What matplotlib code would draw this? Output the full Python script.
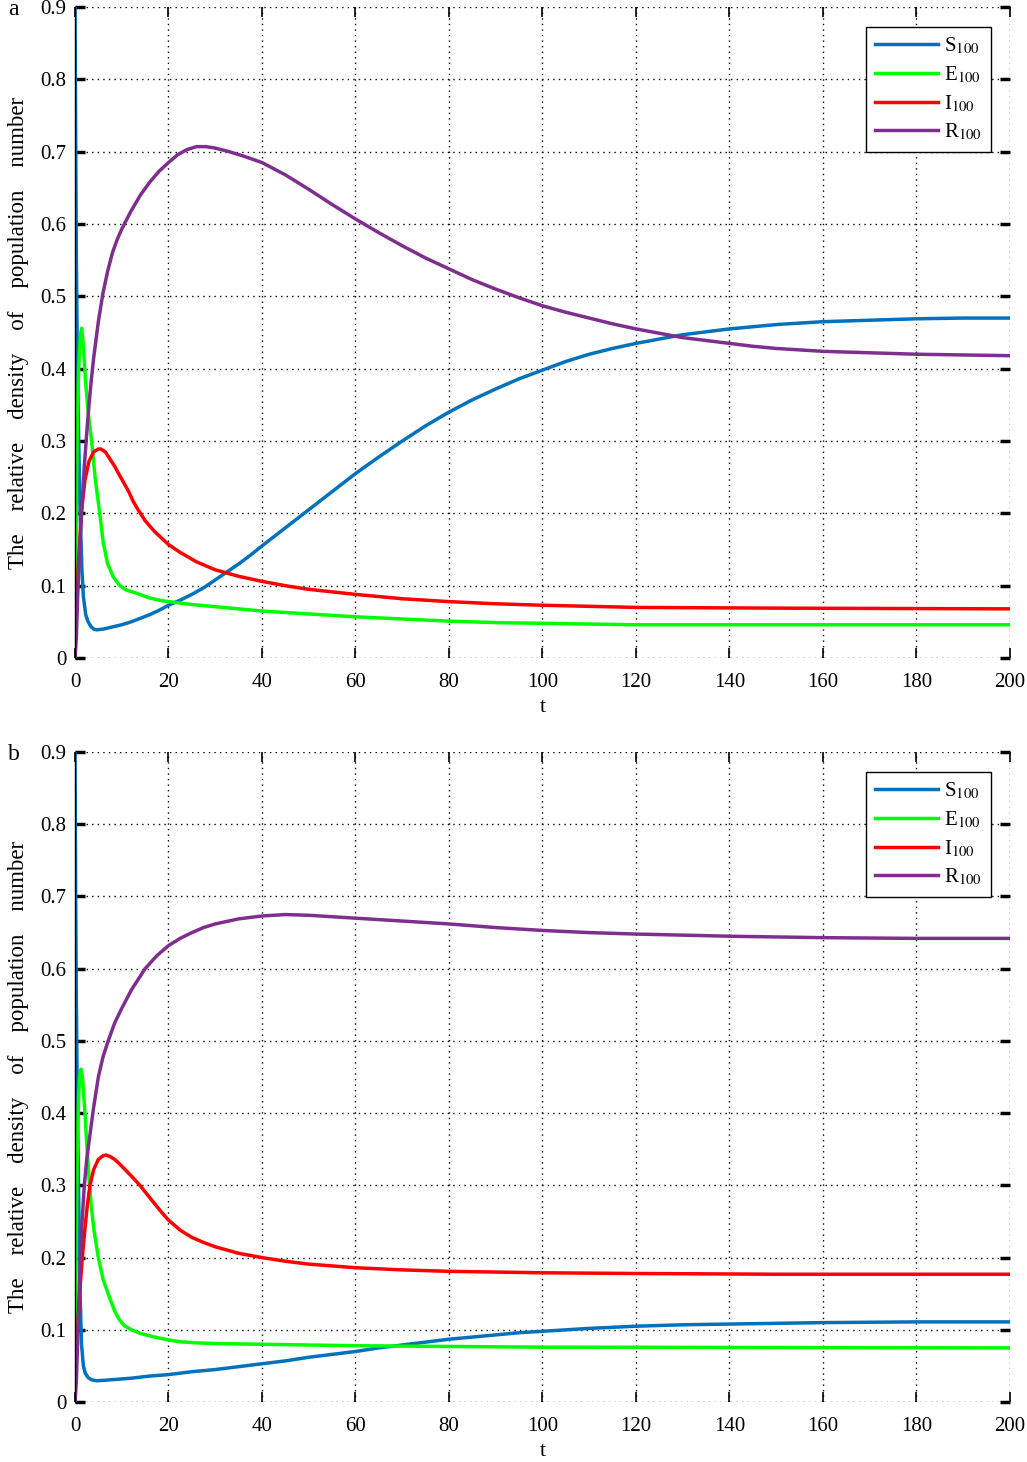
import matplotlib
matplotlib.use("Agg")
import matplotlib.pyplot as plt

# =============================
# DATA
# =============================

# panel a
t_s_a = [0, 0.15, 0.3, 0.5, 0.8, 1.1, 1.5, 1.8, 2.3, 2.7, 3, 3.5, 4, 4.6, 6, 8, 10, 12, 14, 16,
         18, 20, 22.5, 25, 27.5, 30, 32.5, 35, 37.5, 40, 45, 50, 55, 60, 65, 70, 75, 80, 85, 90,
         95, 100, 105, 110, 115, 120, 125, 130, 135, 140, 150, 160, 170, 180, 190, 200]
s_a = [0.9, 0.72, 0.55, 0.42, 0.3, 0.2, 0.12, 0.085, 0.06, 0.052, 0.048, 0.043, 0.04, 0.039, 0.04,
       0.043, 0.046, 0.05, 0.055, 0.06, 0.066, 0.073, 0.08, 0.088, 0.097, 0.108, 0.119, 0.13, 0.142,
       0.155, 0.18, 0.205, 0.23, 0.255, 0.278, 0.3, 0.321, 0.34, 0.357, 0.372, 0.386, 0.398, 0.41,
       0.42, 0.428, 0.435, 0.441, 0.447, 0.451, 0.455, 0.461, 0.465, 0.467, 0.469, 0.47, 0.47]

t_e_a = [0, 0.2, 0.4, 0.6, 0.8, 1.0, 1.2, 1.43, 1.7, 2.0, 2.3, 2.6, 3.0, 3.56, 4.3, 5.2, 6.06,
         7, 8.2, 9.6, 11, 13.2, 16, 18, 20, 25, 30, 40, 50, 60, 70, 80, 90, 100, 120, 200]
e_a = [0, 0.14, 0.28, 0.357, 0.4, 0.43, 0.448, 0.456, 0.44, 0.41, 0.38, 0.357, 0.33, 0.3, 0.25,
       0.205, 0.159, 0.13, 0.112, 0.1, 0.094, 0.0895, 0.083, 0.08, 0.078, 0.074, 0.071, 0.065,
       0.061, 0.057, 0.054, 0.051, 0.049, 0.048, 0.046, 0.046]

t_i_a = [0, 0.25, 0.5, 0.75, 1, 1.43, 2.14, 3, 4, 5, 5.5, 6.5, 7.5, 8.5, 9.5, 10.3, 11.5, 12.5,
         13.5, 15, 17, 20, 22.5, 26, 30, 35, 40, 45, 50, 60, 70, 80, 90, 100, 120, 150, 200]
i_a = [0, 0.05, 0.09, 0.13, 0.16, 0.205, 0.246, 0.272, 0.285, 0.289, 0.289, 0.285, 0.275, 0.265,
       0.253, 0.244, 0.23, 0.216, 0.205, 0.19, 0.175, 0.157, 0.146, 0.133, 0.122, 0.113, 0.106,
       0.1, 0.095, 0.088, 0.082, 0.078, 0.075, 0.073, 0.07, 0.069, 0.068]

t_r_a = [0, 0.3, 0.6, 1, 1.5, 2, 2.5, 3, 3.5, 4, 4.5, 5, 6, 7, 8, 9, 10, 12, 14, 16, 18, 20, 22,
         24, 26, 28, 30, 33, 36, 40, 45, 50, 55, 60, 65, 70, 75, 80, 85, 90, 95, 100, 105, 110,
         115, 120, 125, 130, 135, 140, 145, 150, 160, 170, 180, 190, 200]
r_a = [0, 0.03, 0.09, 0.15, 0.21, 0.265, 0.31, 0.35, 0.385, 0.415, 0.44, 0.465, 0.505, 0.535, 0.56,
       0.578, 0.593, 0.618, 0.64, 0.658, 0.673, 0.685, 0.696, 0.703, 0.707, 0.707, 0.705, 0.7,
       0.694, 0.685, 0.668, 0.648, 0.627, 0.607, 0.588, 0.57, 0.553, 0.538, 0.523, 0.51, 0.498,
       0.487, 0.478, 0.47, 0.462, 0.455, 0.449, 0.443, 0.439, 0.435, 0.431, 0.428, 0.424, 0.422,
       0.42, 0.419, 0.418]

# panel b
t_s_b = [0, 0.15, 0.3, 0.5, 0.8, 1.1, 1.4, 1.8, 2.2, 2.8, 3.5, 4.6, 6, 8, 10, 12, 16, 20, 25, 30,
         35, 40, 45, 50, 55, 60, 65, 70, 75, 80, 85, 90, 95, 100, 110, 120, 130, 140, 150, 160,
         180, 200]
s_b = [0.9, 0.7, 0.55, 0.42, 0.28, 0.15, 0.08, 0.05, 0.04, 0.034, 0.031, 0.0295, 0.03, 0.031,
       0.032, 0.033, 0.036, 0.038, 0.042, 0.045, 0.049, 0.053, 0.057, 0.062, 0.066, 0.07, 0.075,
       0.079, 0.083, 0.087, 0.09, 0.093, 0.096, 0.098, 0.102, 0.105, 0.107, 0.108, 0.109, 0.11,
       0.111, 0.111]

t_e_b = [0, 0.2, 0.4, 0.6, 0.8, 1.0, 1.28, 1.6, 2.1, 2.5, 3, 3.5, 4.06, 5, 6, 7.5, 8.5, 9.5,
         10.5, 12.1, 14, 16.7, 20, 22.5, 26, 30, 40, 50, 60, 80, 100, 150, 200]
e_b = [0, 0.16, 0.3, 0.38, 0.425, 0.45, 0.461, 0.45, 0.404, 0.36, 0.31, 0.27, 0.238, 0.2, 0.17,
       0.143, 0.126, 0.114, 0.106, 0.1, 0.095, 0.0905, 0.086, 0.0835, 0.082, 0.081, 0.08, 0.079,
       0.078, 0.077, 0.076, 0.0755, 0.075]

t_i_b = [0, 0.25, 0.5, 1, 1.5, 2.1, 2.6, 3.2, 4, 5, 6, 6.6, 7.5, 8.5, 9.5, 11, 12.5, 13.9, 15.5,
         17, 18.5, 20, 22.5, 25, 27.5, 30, 35, 40, 45, 50, 60, 70, 80, 100, 120, 150, 200]
i_b = [0, 0.05, 0.09, 0.15, 0.195, 0.238, 0.27, 0.3, 0.322, 0.336, 0.341, 0.342, 0.34, 0.336,
       0.33, 0.32, 0.31, 0.3, 0.287, 0.275, 0.263, 0.252, 0.238, 0.228, 0.221, 0.215, 0.206, 0.2,
       0.195, 0.191, 0.186, 0.183, 0.181, 0.179, 0.178, 0.177, 0.177]

t_r_b = [0, 0.3, 0.6, 1, 1.4, 2, 2.5, 3, 3.9, 5, 6, 7.1, 8.5, 10, 12.1, 15, 17.5, 20, 22.5, 25,
         27.5, 30, 35, 40, 45, 50, 55, 60, 70, 80, 90, 100, 110, 120, 140, 160, 180, 200]
r_b = [0, 0.03, 0.09, 0.17, 0.238, 0.3, 0.335, 0.36, 0.404, 0.45, 0.478, 0.5, 0.525, 0.545, 0.571,
       0.6, 0.618, 0.632, 0.642, 0.65, 0.657, 0.662, 0.669, 0.673, 0.675, 0.674, 0.672, 0.67,
       0.666, 0.662, 0.657, 0.653, 0.65, 0.648, 0.645, 0.643, 0.642, 0.642]

x_ticks = [0, 20, 40, 60, 80, 100, 120, 140, 160, 180, 200]
y_ticks = [0, 0.1, 0.2, 0.3, 0.4, 0.5, 0.6, 0.7, 0.8, 0.9]
y_tick_labels = ["0", "0.1", "0.2", "0.3", "0.4", "0.5", "0.6", "0.7", "0.8", "0.9"]
series_labels = [r"S$_{100}$", r"E$_{100}$", r"I$_{100}$", r"R$_{100}$"]
y_label = "    ".join(["The", "relative", "density", "of", "population", "number"])

# =============================
# STYLE
# =============================

plt.rcParams["font.family"] = ["Liberation Serif", "DejaVu Serif"]
plt.rcParams["mathtext.fontset"] = "stix"

COLORS = ["#0072BD", "#00FF00", "#FF0000", "#7E2F8E"]
LW = 2.5
FS = 15

fig = plt.figure(figsize=(10.27, 14.62), dpi=100)

panels = [
    ("a", [0.0730, 0.5499, 0.9104, 0.4453],
     [(t_s_a, s_a), (t_e_a, e_a), (t_i_a, i_a), (t_r_a, r_a)]),
    ("b", [0.0730, 0.0410, 0.9104, 0.4446],
     [(t_s_b, s_b), (t_e_b, e_b), (t_i_b, i_b), (t_r_b, r_b)]),
]

for tag, rect, data in panels:
    ax = fig.add_axes(rect)
    for (tt, yy), col, lab in zip(data, COLORS, series_labels):
        ax.plot(tt, yy, color=col, lw=LW, label=lab, solid_joinstyle="round")

    ax.set_xlim(0, 200)
    ax.set_ylim(0, 0.9)
    ax.set_xticks(x_ticks)
    ax.set_xticklabels([str(v) for v in x_ticks])
    ax.set_yticks(y_ticks)
    ax.set_yticklabels(y_tick_labels)
    ax.tick_params(direction="in", length=7, labelsize=FS, top=True, right=True)
    ax.tick_params(axis="x", pad=11, width=1.2)
    ax.tick_params(axis="y", pad=6, width=2.5)
    ax.grid(True, color="black", linestyle=(0, (1, 3)), linewidth=1.0)

    for side in ["top", "right", "bottom"]:
        ax.spines[side].set_visible(False)
    ax.spines["left"].set_linewidth(1.0)

    ax.set_xlabel("t", fontsize=FS + 1, labelpad=4)
    ax.set_ylabel(y_label, fontsize=FS + 1.5, labelpad=8)

    leg = ax.legend(loc="upper right", bbox_to_anchor=(0.98, 0.97), fontsize=FS,
                    frameon=True, fancybox=False, edgecolor="black", framealpha=1,
                    handlelength=3.0, handletextpad=0.3, labelspacing=0.38,
                    borderpad=0.45, borderaxespad=0)
    leg.get_frame().set_linewidth(1.0)

    fig.text(0.008, rect[1] + rect[3] - 0.002, tag, fontsize=FS + 2, va="center", ha="left")

fig.savefig("out.png", dpi=100)
